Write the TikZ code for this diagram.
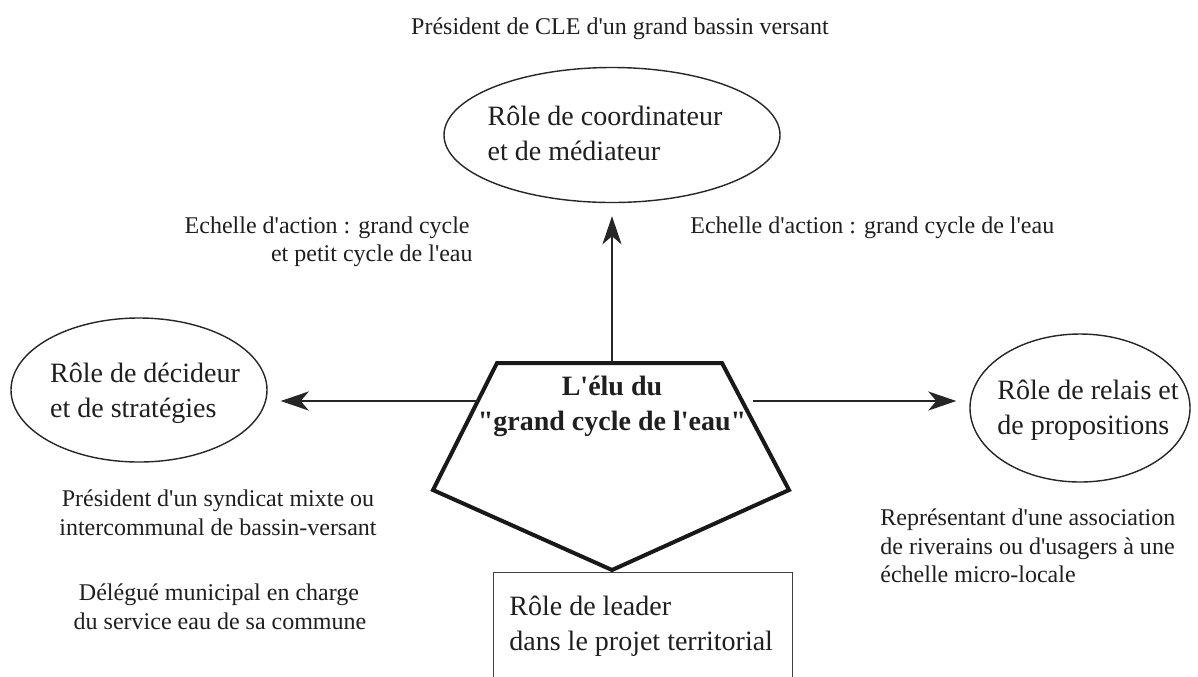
\documentclass[tikz,border=0pt]{standalone}
\usepackage{fontspec}
\setmainfont{Liberation Serif}[Ligatures=TeXOff]
\usetikzlibrary{shapes.geometric,arrows.meta}
\begin{document}
\begin{tikzpicture}[x=0.5pt,y=-0.5pt,
  ell/.style={draw=black!85, line width=0.7pt, ellipse, inner sep=0pt},
  big/.style={font=\fontsize{14}{17.5}\selectfont, text=black!88, align=left, inner sep=0pt},
  small/.style={font=\fontsize{12}{14.5}\selectfont, text=black!88, inner sep=0pt},
  arr/.style={-{Stealth[length=14pt,width=9.5pt,inset=4pt]}, line width=1pt, draw=black!85, shorten >=6.5pt},
]
\clip (0,0) rectangle (1198,676);
\fill[white] (0,0) rectangle (1198,676);

% ellipses
\node[ell, minimum width=168pt, minimum height=67.5pt] (coord) at (612,135) {};
\node[big] (coordtxt) at (605,133) {Rôle de coordinateur\\et de médiateur};
\node[ell, minimum width=128pt, minimum height=72pt] (dec) at (139,390) {};
\node[big] (dectxt) at (145,393) {Rôle de décideur\\et de stratégies};
\node[ell, minimum width=110pt, minimum height=74pt] (rel) at (1080,408) {};
\node[big] (reltxt) at (1088,410) {Rôle de relais et\\de propositions};

% pentagon
\coordinate (p1) at (497,363);
\coordinate (p2) at (722,363);
\coordinate (p3) at (789,490);
\coordinate (p4) at (612,570);
\coordinate (p5) at (433,490);
\draw[line width=2pt, draw=black!90, line join=miter] (p1) -- (p2) -- (p3) -- (p4) -- (p5) -- cycle;
\node[big, font=\fontsize{14}{17.5}\selectfont\bfseries, align=center] (elu) at (612,406) {L'élu du\\"grand cycle de l'eau"};

% arrows
\coordinate (ptop) at (612,363);
\coordinate (pl) at (478,401);
\coordinate (pr) at (753,401);
\draw[arr] (ptop) -- (coord.south);
\draw[arr] (pl) -- (pl -| dec.east);
\draw[arr] (pr) -- (pr -| rel.west);

% leader box
\node[draw=black!75, line width=0.6pt, minimum width=149.5pt, minimum height=70pt, anchor=north west, inner sep=0pt] (leadbox) at (493,572) {};
\node[big, anchor=base west] (lead1) at (509,615) {Rôle de leader};
\node[big, anchor=base west] (lead2) at (509,650) {dans le projet territorial};

% annotations
\node[small, anchor=base] (title) at (620,34) {Président de CLE d'un grand bassin versant};
\node[small, anchor=base east] (ech1) at (470,233) {Echelle d'action : grand cycle};
\node[small, anchor=base east] (ech2) at (473,261) {et petit cycle de l'eau};
\node[small, anchor=base west] (ech3) at (690,233) {Echelle d'action : grand cycle de l'eau};

\node[small, anchor=base] (pres1) at (218,506) {Président d'un syndicat mixte ou};
\node[small, anchor=base] (pres2) at (218,535) {intercommunal de bassin-versant};
\node[small, anchor=base] (del1) at (219,600) {Délégué municipal en charge};
\node[small, anchor=base] (del2) at (220,629) {du service eau de sa commune};

\node[small, anchor=base west] (rep1) at (880,525) {Représentant d'une association};
\node[small, anchor=base west] (rep2) at (880,554) {de riverains ou d'usagers à une};
\node[small, anchor=base west] (rep3) at (880,582) {échelle micro-locale};
\end{tikzpicture}
\end{document}
